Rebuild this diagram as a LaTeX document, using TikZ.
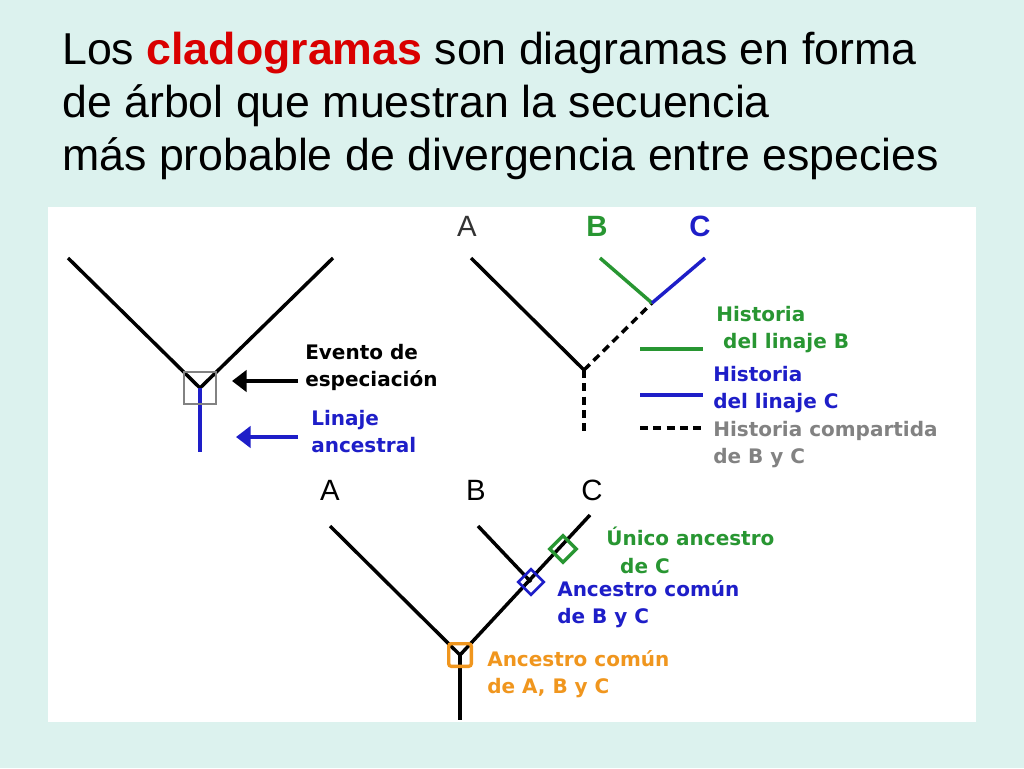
\documentclass[tikz,border=0pt]{standalone}
\usepackage{fontspec}
\setmainfont{Liberation Sans}
\newfontfamily\lab{DejaVu Sans}
\usetikzlibrary{arrows.meta,shapes.geometric}
\definecolor{bgc}{RGB}{220,242,238}
\definecolor{gr}{RGB}{40,150,50}
\definecolor{bl}{RGB}{30,30,200}
\definecolor{og}{RGB}{240,150,30}
\definecolor{gy}{RGB}{130,130,130}
\begin{document}
\begin{tikzpicture}[x=0.75pt,y=-0.75pt,
  br/.style={line width=2.6pt},
  dsh/.style={line width=2.6pt,dash pattern=on 6pt off 4pt},
  lb/.style={font=\lab\bfseries\fontsize{15}{20.5}\selectfont,align=left,anchor=north west,inner sep=0pt},
  let/.style={font=\fontsize{22}{22}\selectfont,inner sep=0pt},
  tt/.style={font=\fontsize{33.5}{39}\selectfont,anchor=west,inner sep=0pt}]
\fill[bgc] (0,0) rectangle (1024,768);
\fill[white] (48,207) rectangle (976,722);
\node[tt] (t1) at (62,53) {Los \textbf{\color{red!85!black}cladogramas} son diagramas en forma};
\node[tt] (t2) at (62,106) {de árbol que muestran la secuencia};
\node[tt] (t3) at (62,159) {más probable de divergencia entre especies};
% diagram 1
\coordinate (j1) at (200,388);
\coordinate (l1) at (68,258); \coordinate (r1) at (333,258); \coordinate (b1) at (200,452);
\draw[br] (l1)--(j1)--(r1);
\draw[line width=2.4pt,bl] (j1)--(b1);
\node[draw=gy,line width=1.2pt,minimum size=24pt,inner sep=0pt] (sq) at (j1) {};
\node[lb] (ev) at (305,344) {Evento de\\especiación};
\node[lb,text=bl] (li) at (311,410) {Linaje\\ancestral};
\coordinate (a1) at (298,381); \coordinate (a2) at (298,437);
\draw[line width=3.5pt,-{Triangle[length=11pt,width=16pt]}] (a1)--(232,381);
\draw[line width=3.5pt,bl,-{Triangle[length=11pt,width=16pt]}] (a2)--(236,437);
% diagram 2
\node[let,text=black!80] (A2) at (467,226) {A};
\node[let,text=gr,font=\bfseries\fontsize{22}{22}\selectfont] (B2) at (597,226) {B};
\node[let,text=bl,font=\bfseries\fontsize{22}{22}\selectfont] (C2) at (700,226) {C};
\coordinate (j2) at (584,370); \coordinate (k2) at (652,303);
\draw[br] (471,258)--(j2);
\draw[dsh] (j2)--(k2);
\draw[br,gr] (600,258)--(k2);
\draw[br,bl] (705,258)--(k2);
\draw[dsh] (j2)--(584,435);
\draw[br,gr] (640,349)--(703,349);
\draw[br,bl] (640,395)--(703,395);
\draw[dsh] (640,428)--(703,428);
\node[lb,text=gr] (hb) at (716,306) {Historia\\\ del linaje B};
\node[lb,text=bl] (hc) at (713,366) {Historia\\del linaje C};
\node[lb,text=gy] (hs) at (713,421) {Historia compartida\\de B y C};
% diagram 3
\node[let] (A3) at (330,490) {A};
\node[let] (B3) at (476,490) {B};
\node[let] (C3) at (592,490) {C};
\coordinate (j3) at (460,655); \coordinate (k3) at (531,582); \coordinate (g3) at (563,549);
\draw[br] (330,526)--(j3)--(590,515);
\draw[br] (478,526)--(k3);
\draw[br] (j3)--(460,720);
\node[draw=og,line width=2.5pt,rounded corners=2pt,minimum size=17pt,inner sep=0pt] (os) at (j3) {};
\node[draw=bl,line width=2pt,diamond,minimum size=20pt,inner sep=0pt] (bd) at (k3) {};
\node[draw=gr,line width=2.5pt,diamond,minimum size=21pt,inner sep=0pt] (gd) at (g3) {};
\node[lb,text=gr] (u3) at (606,527) {Único ancestro\\\ \ de C};
\node[lb,text=bl] (c3) at (557,580) {Ancestro común\\de B y C};
\node[lb,text=og] (o3) at (487,650) {Ancestro común\\de A, B y C};
\end{tikzpicture}
\end{document}
